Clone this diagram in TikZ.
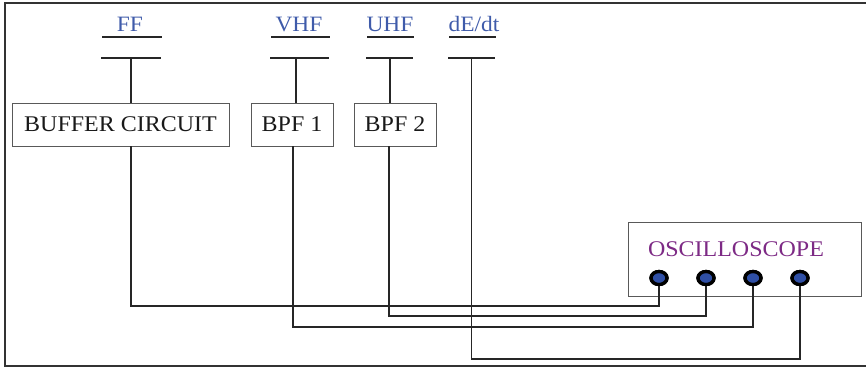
\documentclass[tikz,border=0pt]{standalone}
\usepackage{fontspec}
\setmainfont{Liberation Serif}[FakeStretch=1.07]
\usetikzlibrary{shapes.geometric}
\definecolor{lblue}{HTML}{3F5BAA}
\definecolor{jblue}{HTML}{2F4FA5}
\definecolor{opurple}{HTML}{7D2A85}
\begin{document}
\begin{tikzpicture}[x=1bp,y=-1bp,
 wire/.style={line width=1.6bp, draw=black!85},
 box/.style={draw=black!65, line width=0.9bp, minimum height=43bp, inner sep=0pt, font=\fontsize{22.5}{26}\selectfont, text=black!90},
 lbl/.style={anchor=base, text=lblue, font=\fontsize{22}{25}\selectfont, inner sep=0pt},
 plate/.style={minimum height=0pt, inner sep=0pt, outer sep=0pt},
 pline/.style={line width=1.6bp, draw=black!85},
 jack/.style={ellipse, draw=black, fill=jblue, line width=3.3bp, minimum width=16bp, minimum height=13bp, inner sep=0pt}]
\useasboundingbox (0,0) rectangle (866,368);
\draw[line width=1.8bp, draw=black!80] (870,3) -- (5,3) -- (5,366) -- (870,366);

% wire levels
\coordinate (lv1) at (0,306);
\coordinate (lv2) at (0,316);
\coordinate (lv3) at (0,327);
\coordinate (lv4) at (0,359);

% labels
\node[lbl] (ff) at (130,31) {FF};
\node[lbl] (vhf) at (299,31) {VHF};
\node[lbl] (uhf) at (390,31) {UHF};
\node[lbl] (dedt) at (474,31) {dE/dt};

% upper plates
\node[plate, minimum width=60bp] (fft) at (132,37) {};
\node[plate, minimum width=59bp] (vhft) at (300.5,37) {};
\node[plate, minimum width=47bp] (uhft) at (390.5,37) {};
\node[plate, minimum width=47bp] (dedtt) at (472.5,37) {};
% lower plates
\node[plate, minimum width=60bp] (ffb) at (131,58) {};
\node[plate, minimum width=59bp] (vhfb) at (299.5,58) {};
\node[plate, minimum width=47bp] (uhfb) at (389.5,58) {};
\node[plate, minimum width=47bp] (dedtb) at (471.5,58) {};
\foreach \p in {fft,vhft,uhft,dedtt,ffb,vhfb,uhfb,dedtb}
  \draw[pline] (\p.west) -- (\p.east);

% boxes
\node[box, minimum width=217bp] (buf) at (120.5,124.5) {BUFFER CIRCUIT};
\node[box, minimum width=82bp] (bpf1) at (292,124.5) {BPF 1};
\node[box, minimum width=82bp] (bpf2) at (395,124.5) {BPF 2};
\node[box, minimum width=233bp, minimum height=74bp] (osc) at (744.5,259) {};
\node[anchor=base, inner sep=0pt, text=opurple, font=\fontsize{22.5}{26}\selectfont] (osct) at (736,256) {OSCILLOSCOPE};

% jacks
\node[jack] (j1) at (659,278) {};
\node[jack] (j2) at (706,278) {};
\node[jack] (j3) at (753,278) {};
\node[jack] (j4) at (800,278) {};

% verticals from plates to boxes
\draw[wire] (ffb.center) -- (ffb.center |- buf.north);
\draw[wire] ([xshift=-3.5bp]vhfb.center) -- ([xshift=-3.5bp]vhfb.center |- bpf1.north);
\draw[wire] ([xshift=0.5bp]uhfb.center) -- ([xshift=0.5bp]uhfb.center |- bpf2.north);

% wires to oscilloscope
\draw[wire] (ffb.center |- buf.south) -- (ffb.center |- lv1) -| (j1.south);
\draw[wire] ([xshift=1bp]bpf1.south) -- ([xshift=1bp]bpf1.south |- lv3) -| (j3.south);
\draw[wire] ([xshift=-6bp]bpf2.south) -- ([xshift=-6bp]bpf2.south |- lv2) -| (j2.south);
\draw[wire] (dedtb.center) -- (dedtb.center |- lv4) -| (j4.south);
\foreach \j in {j1,j2,j3,j4}
  \node[jack] at (\j) {};
\end{tikzpicture}
\end{document}
